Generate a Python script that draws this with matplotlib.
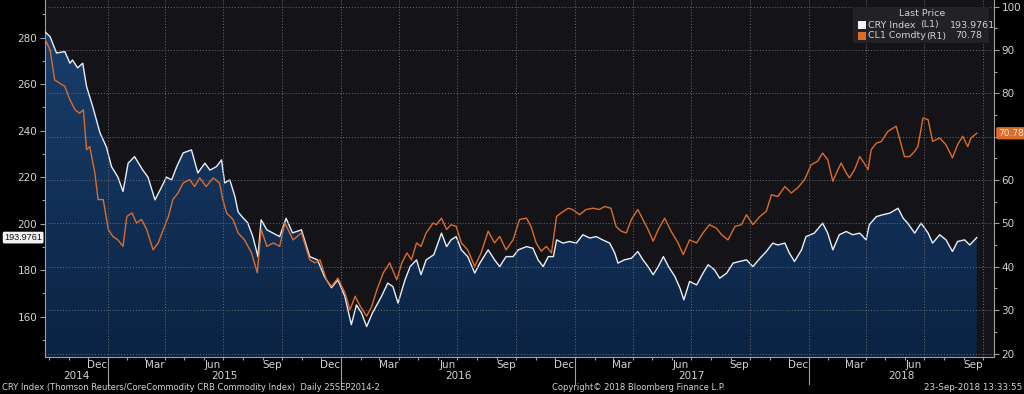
import numpy as np
import pandas as pd
import matplotlib
matplotlib.use('Agg')
import matplotlib.pyplot as plt
import matplotlib.dates as mdates
from matplotlib.colors import LinearSegmentedColormap
from matplotlib.patches import PathPatch, Rectangle
from matplotlib.ticker import MultipleLocator, FuncFormatter
from matplotlib.transforms import blended_transform_factory

# CRY Index (left axis)
cry_dates = ['2014-09-25', '2014-10-03', '2014-10-13', '2014-10-26', '2014-11-03', '2014-11-07', '2014-11-15',
             '2014-11-23', '2014-11-29', '2014-12-09', '2014-12-20', '2014-12-30',
             '2015-01-07', '2015-01-17', '2015-01-25', '2015-02-02', '2015-02-12', '2015-02-25', '2015-03-05',
             '2015-03-16', '2015-03-24', '2015-04-03', '2015-04-11', '2015-04-19', '2015-04-29', '2015-05-12',
             '2015-05-22', '2015-06-02', '2015-06-10', '2015-06-20', '2015-06-28', '2015-07-03', '2015-07-11',
             '2015-07-19', '2015-07-24', '2015-07-30', '2015-08-08', '2015-08-16', '2015-08-24', '2015-08-29',
             '2015-09-07', '2015-09-16', '2015-09-27', '2015-10-07', '2015-10-17', '2015-10-31', '2015-11-13',
             '2015-11-25', '2015-12-06', '2015-12-17', '2015-12-27',
             '2016-01-07', '2016-01-17', '2016-01-25', '2016-02-02', '2016-02-10', '2016-02-19', '2016-03-04',
             '2016-03-14', '2016-03-22', '2016-03-30', '2016-04-10', '2016-04-18', '2016-04-28', '2016-05-05',
             '2016-05-13', '2016-05-25', '2016-06-06', '2016-06-14', '2016-06-21', '2016-06-29', '2016-07-07',
             '2016-07-17', '2016-07-28', '2016-08-05', '2016-08-18', '2016-08-28', '2016-09-05', '2016-09-15',
             '2016-09-26', '2016-10-04', '2016-10-17', '2016-10-27', '2016-11-04', '2016-11-12', '2016-11-20',
             '2016-11-28', '2016-12-03', '2016-12-13', '2016-12-23',
             '2017-01-03', '2017-01-13', '2017-01-24', '2017-02-03', '2017-02-13', '2017-02-24', '2017-03-04',
             '2017-03-09', '2017-03-19', '2017-03-30', '2017-04-09', '2017-04-17', '2017-04-25', '2017-05-03',
             '2017-05-11', '2017-05-19', '2017-05-27', '2017-06-06', '2017-06-14', '2017-06-20', '2017-06-29',
             '2017-07-10', '2017-07-20', '2017-07-28', '2017-08-07', '2017-08-15', '2017-08-26', '2017-09-05',
             '2017-09-15', '2017-09-26', '2017-10-06', '2017-10-17', '2017-10-27', '2017-11-06', '2017-11-14',
             '2017-11-25', '2017-12-02', '2017-12-10', '2017-12-21', '2017-12-28',
             '2018-01-10', '2018-01-23', '2018-01-31', '2018-02-08', '2018-02-18', '2018-03-01', '2018-03-11',
             '2018-03-22', '2018-04-01', '2018-04-06', '2018-04-17', '2018-04-27', '2018-05-08', '2018-05-21',
             '2018-05-29', '2018-06-05', '2018-06-16', '2018-06-26', '2018-07-07', '2018-07-14', '2018-07-25',
             '2018-08-04', '2018-08-14', '2018-08-22', '2018-09-02', '2018-09-10', '2018-09-21']
cry_vals = [282.5, 280.4, 273.4, 274.0, 269.0, 270.4, 267.0, 269.0, 259.0, 250.0, 239.0, 233.0,
            224.5, 220.0, 213.8, 226.0, 228.8, 223.0, 220.0, 210.2, 214.5, 220.0, 218.8, 224.5, 230.4, 231.7,
            221.8, 226.0, 223.0, 224.5, 227.4, 217.5, 218.8, 211.6, 205.0, 203.0, 200.3, 194.4, 185.8, 201.6,
            197.3, 196.0, 194.4, 202.3, 196.0, 197.3, 185.8, 184.4, 177.2, 172.4, 175.8,
            168.6, 156.5, 165.0, 161.5, 155.7, 161.5, 168.6, 174.4, 172.9, 165.8, 175.8, 181.5, 184.4, 178.0,
            184.4, 186.6, 195.9, 190.1, 193.0, 194.4, 188.7, 185.8, 178.7, 183.0, 188.7, 184.4, 181.5, 185.8,
            185.8, 188.7, 190.1, 189.4, 184.4, 181.5, 185.8, 185.8, 193.0, 191.6, 192.3,
            191.6, 195.2, 193.8, 194.4, 193.0, 191.6, 187.3, 183.0, 184.4, 185.1, 188.0, 184.4, 181.5, 178.0,
            181.5, 185.8, 181.5, 177.2, 172.2, 167.2, 175.1, 173.6, 178.7, 182.3, 180.1, 176.5, 178.7, 183.0,
            183.7, 184.4, 181.5, 185.1, 188.0, 191.6, 190.8, 191.6, 187.3, 183.7, 188.7, 194.4,
            195.9, 200.2, 195.9, 188.7, 195.2, 196.6, 195.2, 195.9, 193.0, 199.5, 203.0, 203.8, 204.5, 206.6,
            202.3, 200.2, 195.9, 200.2, 195.9, 191.6, 195.2, 193.0, 188.0, 192.3, 193.0, 190.8, 193.9761]

# CL1 Comdty (right axis)
oil_dates = ['2014-09-25', '2014-10-03', '2014-10-10', '2014-10-18', '2014-10-26', '2014-11-03', '2014-11-11',
             '2014-11-18', '2014-11-24', '2014-11-29', '2014-12-04', '2014-12-12', '2014-12-17', '2014-12-25',
             '2015-01-02', '2015-01-09', '2015-01-17', '2015-01-25', '2015-01-31', '2015-02-08', '2015-02-15',
             '2015-02-23', '2015-03-03', '2015-03-13', '2015-03-21', '2015-03-29', '2015-04-06', '2015-04-13',
             '2015-04-21', '2015-04-29', '2015-05-09', '2015-05-17', '2015-05-25', '2015-06-04', '2015-06-15',
             '2015-06-25', '2015-06-30', '2015-07-06', '2015-07-16', '2015-07-24', '2015-08-03', '2015-08-14',
             '2015-08-23', '2015-08-29', '2015-09-07', '2015-09-17', '2015-09-27', '2015-10-05', '2015-10-18',
             '2015-10-31', '2015-11-13', '2015-11-21', '2015-11-29', '2015-12-09', '2015-12-17', '2015-12-27',
             '2016-01-07', '2016-01-15', '2016-01-23', '2016-01-31', '2016-02-10', '2016-02-18', '2016-02-26',
             '2016-03-07', '2016-03-17', '2016-03-28', '2016-04-05', '2016-04-13', '2016-04-20', '2016-04-28',
             '2016-05-05', '2016-05-13', '2016-05-24', '2016-05-29', '2016-06-06', '2016-06-14', '2016-06-21',
             '2016-06-29', '2016-07-07', '2016-07-17', '2016-07-28', '2016-08-07', '2016-08-18', '2016-08-28',
             '2016-09-05', '2016-09-15', '2016-09-26', '2016-10-06', '2016-10-17', '2016-10-24', '2016-11-01',
             '2016-11-09', '2016-11-17', '2016-11-25', '2016-12-03', '2016-12-10', '2016-12-21', '2016-12-28',
             '2017-01-08', '2017-01-18', '2017-01-29', '2017-02-08', '2017-02-16', '2017-02-26', '2017-03-06',
             '2017-03-14', '2017-03-22', '2017-03-30', '2017-04-09', '2017-04-17', '2017-04-25', '2017-05-03',
             '2017-05-11', '2017-05-21', '2017-05-31', '2017-06-11', '2017-06-19', '2017-06-29', '2017-07-10',
             '2017-07-20', '2017-07-30', '2017-08-10', '2017-08-18', '2017-08-28', '2017-09-08', '2017-09-18',
             '2017-09-26', '2017-10-06', '2017-10-17', '2017-10-27', '2017-11-04', '2017-11-14', '2017-11-25',
             '2017-12-05', '2017-12-15', '2017-12-26',
             '2018-01-05', '2018-01-15', '2018-01-23', '2018-01-31', '2018-02-08', '2018-02-16', '2018-02-21',
             '2018-03-01', '2018-03-06', '2018-03-14', '2018-03-22', '2018-03-29', '2018-04-04', '2018-04-09',
             '2018-04-17', '2018-04-25', '2018-05-05', '2018-05-18', '2018-05-23', '2018-05-31', '2018-06-08',
             '2018-06-16', '2018-06-21', '2018-06-29', '2018-07-07', '2018-07-14', '2018-07-25', '2018-08-04',
             '2018-08-14', '2018-08-22', '2018-08-30', '2018-09-07', '2018-09-12', '2018-09-21']
oil_vals = [92.5, 90.0, 83.1, 82.3, 81.6, 78.5, 76.2, 75.4, 76.2, 67.0, 67.7, 61.6, 55.5, 55.5,
            48.6, 47.0, 46.2, 44.7, 51.6, 52.4, 50.1, 50.9, 48.6, 43.9, 45.5, 48.6, 51.6, 55.5, 57.0, 59.3,
            60.1, 58.5, 60.5, 58.5, 60.5, 59.3, 55.5, 52.4, 50.9, 47.8, 46.2, 43.2, 38.6, 48.6, 44.7, 45.5,
            44.7, 50.1, 46.2, 47.8, 41.6, 40.9, 41.6, 37.0, 35.5, 37.4,
            34.0, 30.1, 33.2, 30.9, 28.6, 30.9, 34.7, 38.6, 40.9, 37.0, 40.9, 43.2, 41.6, 45.5, 44.7, 47.8,
            50.1, 49.7, 51.2, 48.6, 49.7, 49.3, 45.5, 43.9, 40.1, 43.2, 48.2, 45.5, 47.0, 43.9, 46.2, 50.9,
            51.2, 49.3, 45.5, 43.6, 44.7, 43.2, 51.6, 52.4, 53.5, 53.2,
            52.0, 53.2, 53.5, 53.2, 53.9, 53.5, 49.3, 48.2, 47.8, 50.9, 53.2, 50.9, 48.6, 45.9, 48.6, 51.2,
            48.2, 45.5, 42.8, 46.2, 45.5, 47.8, 49.7, 48.9, 47.4, 46.2, 49.3, 49.7, 52.0, 49.7, 51.6, 52.8,
            56.6, 56.2, 58.5, 57.0, 58.2, 60.1,
            63.5, 64.3, 66.2, 64.7, 59.7, 62.4, 63.9, 61.6, 60.5, 62.4, 65.4, 63.9, 62.4, 67.0, 68.5, 68.9,
            71.2, 72.4, 69.7, 65.4, 65.4, 66.6, 67.7, 74.3, 73.9, 68.9, 69.7, 68.1, 65.1, 68.1, 70.1, 67.7,
            69.7, 70.78]

cry_x = pd.to_datetime(cry_dates)
oil_x = pd.to_datetime(oil_dates)

x_start = pd.Timestamp('2014-09-25')
x_end = pd.Timestamp('2018-10-18')
left_lim = (142.6, 296.2)
right_lim = (19.2, 101.5)

txt = '#d2d2d2'
axis_col = '#a0a0a0'
grid_col = '#6e6e6e'
orange = '#dc6c2a'

fig = plt.figure(figsize=(10.24, 3.94), dpi=100, facecolor='black')
ax = fig.add_axes([45 / 1024, 37 / 394, 949 / 1024, 357 / 394])
ax.set_facecolor('#141318')
ax2 = ax.twinx()

# blue area under the CRY line, with a vertical gradient
fill = ax.fill_between(cry_x, cry_vals, left_lim[0], facecolor='none', lw=0)
cmap = LinearSegmentedColormap.from_list('fillgrad', ['#0b2343', '#1a416f'])
grad = np.linspace(0, 1, 256).reshape(-1, 1)
im = ax.imshow(grad, cmap=cmap, origin='lower', aspect='auto', zorder=1,
               extent=[mdates.date2num(x_start), mdates.date2num(x_end), left_lim[0], left_lim[1]])
clip = PathPatch(fill.get_paths()[0], transform=ax.transData, facecolor='none', edgecolor='none')
ax.add_patch(clip)
im.set_clip_path(clip)

ax.plot(cry_x, cry_vals, color='#e8eef6', lw=1.0, zorder=3)
ax2.plot(oil_x, oil_vals, color=orange, lw=1.0, zorder=2)

ax.set_xlim(x_start, x_end)
ax.set_ylim(*left_lim)
ax2.set_ylim(*right_lim)

# grid: horizontal on right axis, vertical at quarter starts
ax2.set_yticks(range(20, 101, 10))
ax2.yaxis.set_minor_locator(MultipleLocator(5))
# the 70 label sits under the last-price tag
ax2.yaxis.set_major_formatter(FuncFormatter(lambda v, p: '' if round(v) == 70 else f'{v:.0f}'))
ax2.grid(axis='y', color=grid_col, ls=(0, (1, 2)), lw=0.7)
for d in pd.date_range('2015-01-01', x_end, freq='QS'):
    ax2.axvline(d, color=grid_col, ls=(0, (1, 2)), lw=0.7)

ax.set_yticks(range(160, 281, 20))
ax.yaxis.set_minor_locator(MultipleLocator(10))

ax.xaxis.set_major_locator(mdates.MonthLocator(bymonth=[3, 6, 9, 12], bymonthday=15))
ax.xaxis.set_major_formatter(mdates.DateFormatter('%b'))
ax.xaxis.set_minor_locator(mdates.MonthLocator())

for a in (ax, ax2):
    a.tick_params(which='both', colors=axis_col, labelcolor=txt, labelsize=7.5, width=0.8)
    a.tick_params(which='major', length=3.5)
    a.tick_params(which='minor', length=2)
    for s in a.spines.values():
        s.set_color(axis_col)
        s.set_linewidth(0.8)
ax.tick_params(axis='x', which='major', length=0, pad=2)
ax.tick_params(axis='y', pad=2)
ax2.tick_params(axis='y', pad=2)
ax.spines['top'].set_visible(False)
ax.spines['right'].set_visible(False)
ax2.spines['top'].set_visible(False)
ax2.spines['left'].set_visible(False)
ax2.spines['bottom'].set_visible(False)

# year labels and year separators under the axis
trans = blended_transform_factory(ax.transData, ax.transAxes)
years = [2014, 2015, 2016, 2017, 2018]
for yr in years:
    lo = max(pd.Timestamp(f'{yr}-01-01'), x_start)
    hi = min(pd.Timestamp(f'{yr + 1}-01-01'), x_end)
    mid = lo + (hi - lo) / 2
    ax.text(mid, -0.053, str(yr), transform=trans, ha='center', va='center', color=txt, fontsize=7.5)
    if yr > 2014:
        ax.plot([pd.Timestamp(f'{yr}-01-01')] * 2, [0, -0.075], transform=trans, color=axis_col,
                lw=0.8, clip_on=False)

# last value tags
ax.text(-0.003, cry_vals[-1], f'{cry_vals[-1]:.4f}', transform=blended_transform_factory(ax.transAxes, ax.transData),
        ha='right', va='center', fontsize=6.6, color='#111111', family='Liberation Sans',
        bbox=dict(boxstyle='round,pad=0.15', fc='#f2f2f2', ec='none'))
ax2.text(1.004, oil_vals[-1], f'{oil_vals[-1]:.2f}', transform=blended_transform_factory(ax2.transAxes, ax2.transData),
         ha='left', va='center', fontsize=6.5, color='#fbe3d2',
         bbox=dict(boxstyle='round,pad=0.18', fc=orange, ec='none'))

# legend box
fig.patches.append(Rectangle((853 / 1024, 1 - 43 / 394), 136 / 1024, 36 / 394, transform=fig.transFigure,
                             facecolor='#222226', edgecolor='none', zorder=5))
fig.text(922 / 1024, 1 - 14 / 394, 'Last Price', ha='center', va='center', color=txt, fontsize=6.8, zorder=6)
rows = [('CRY Index', '(L1)', f'{cry_vals[-1]:.4f}', '#f4f4f4', 25, 920, 950),
        ('CL1 Comdty', '(R1)', f'{oil_vals[-1]:.2f}', orange, 36, 926, 955)]
for name, side, val, col, ypix, xside, xval in rows:
    fig.patches.append(Rectangle((858 / 1024, 1 - (ypix + 4) / 394), 8 / 1024, 8 / 394, transform=fig.transFigure,
                                 facecolor=col, edgecolor='none', zorder=6))
    fig.text(868 / 1024, 1 - ypix / 394, name, ha='left', va='center', color=txt, fontsize=6.8, zorder=6)
    fig.text(xside / 1024, 1 - ypix / 394, side, ha='left', va='center', color=txt, fontsize=6.8, zorder=6)
    fig.text(xval / 1024, 1 - ypix / 394, val, ha='left', va='center', color=txt, fontsize=6.8, zorder=6)

# footer
fig.text(2 / 1024, 6 / 394, 'CRY Index (Thomson Reuters/CoreCommodity CRB Commodity Index)  Daily 25SEP2014-2',
         ha='left', va='center', color=txt, fontsize=6)
fig.text(639 / 1024, 6 / 394, 'Copyright\u00a9 2018 Bloomberg Finance L.P.', ha='center', va='center',
         color=txt, fontsize=6)
fig.text(1022 / 1024, 6 / 394, '23-Sep-2018 13:33:55', ha='right', va='center', color=txt, fontsize=6.3)

fig.savefig('out.png', dpi=100, facecolor='black')
